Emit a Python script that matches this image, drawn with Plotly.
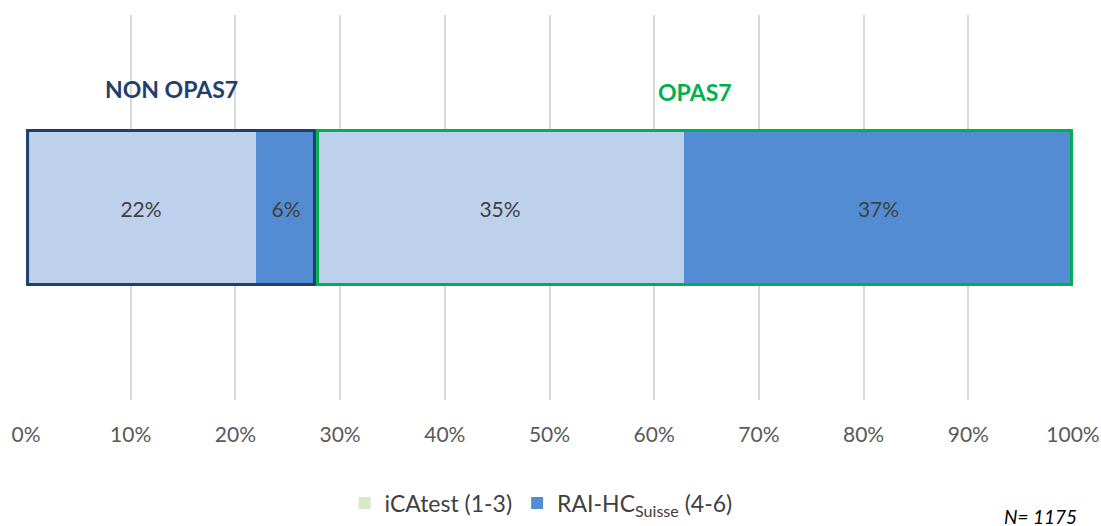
import plotly.graph_objects as go

# Data
category = ["Total"]
segment_names = ["iCAtest (1-3) NON OPAS7", "RAI-HC Suisse (4-6) NON OPAS7",
                 "iCAtest (1-3) OPAS7", "RAI-HC Suisse (4-6) OPAS7"]
segment_values = [22.0, 5.7, 35.1, 37.2]
segment_labels = ["22%", "6%", "35%", "37%"]
segment_group = ["NON OPAS7", "NON OPAS7", "OPAS7", "OPAS7"]
legend_names = ["iCAtest (1-3)", "RAI-HC<sub>Suisse</sub> (4-6)"]
tick_vals = [0, 10, 20, 30, 40, 50, 60, 70, 80, 90, 100]
tick_text = ["0%", "10%", "20%", "30%", "40%", "50%", "60%", "70%", "80%", "90%", "100%"]
n_text = "N= 1175"

LIGHT = "#BDD1EC"
DARK = "#538CD3"
LEG_LIGHT = "#D6EAC8"
NAVY = "#1F3F6E"
GREEN = "#00B050"
FONT = "Lato, Carlito, Calibri, sans-serif"
BAR_W = 0.40

W, H = 1101, 526
ML, MR, MT, MB = 26, 28, 15, 126
PW, PH = W - ML - MR, H - MT - MB

seg_colors = [LIGHT, DARK, LIGHT, DARK]

fig = go.Figure()
for name, val, lab, col in zip(segment_names, segment_values, segment_labels, seg_colors):
    fig.add_trace(go.Bar(
        y=[0], x=[val], orientation="h", name=name, width=BAR_W,
        marker=dict(color=col, line=dict(width=0)),
        text=[lab], textposition="inside", insidetextanchor="middle",
        textfont=dict(family=FONT, size=21, color="#404040"),
        showlegend=False, hoverinfo="x+name",
    ))

# legend-only traces
for nm, col in zip(legend_names, [LEG_LIGHT, DARK]):
    fig.add_trace(go.Scatter(
        x=[None], y=[None], mode="markers", name=nm,
        marker=dict(symbol="square", size=13, color=col),
    ))

# group boxes and titles
non_sum = sum(v for v, g in zip(segment_values, segment_group) if g == "NON OPAS7")
opas_sum = sum(v for v, g in zip(segment_values, segment_group) if g == "OPAS7")
groups = [("NON OPAS7", 0, non_sum, NAVY, 0.308), ("OPAS7", non_sum, non_sum + opas_sum, GREEN, 0.30)]
for title, x0, x1, col, ty in groups:
    fig.add_shape(type="rect", xref="x", yref="y", x0=x0 + 0.15, x1=x1 - 0.15,
                  y0=-BAR_W / 2, y1=BAR_W / 2, line=dict(color=col, width=3),
                  fillcolor="rgba(0,0,0,0)")
    fig.add_annotation(x=(x0 + x1) / 2, y=ty, xref="x", yref="y", text=f"<b>{title}</b>",
                       showarrow=False, font=dict(family=FONT, size=23, color=col))

fig.add_annotation(x=(1079 - ML) / PW, y=-(516 - (MT + PH)) / PH, xref="paper", yref="paper",
                   text=f"<i>{n_text}</i>", showarrow=False, xanchor="right", yanchor="middle",
                   font=dict(family=FONT, size=19, color="#000000"))

fig.update_layout(
    width=W, height=H,
    margin=dict(l=ML, r=MR, t=MT, b=MB, autoexpand=False),
    barmode="stack", bargap=0,
    plot_bgcolor="white", paper_bgcolor="white",
    font=dict(family=FONT, size=16, color="#595959"),
    xaxis=dict(range=[0, 100], tickvals=tick_vals, ticktext=tick_text, automargin=False,
               showgrid=True, gridcolor="#D9D9D9", gridwidth=2, zeroline=False,
               showline=False, ticks="", ticklabelstandoff=20,
               tickfont=dict(family=FONT, size=21, color="#595959")),
    yaxis=dict(range=[-0.5, 0.5], showticklabels=False, showgrid=False, zeroline=False,
               automargin=False),
    legend=dict(orientation="h", x=0.492, xanchor="center", y=-(503 - (MT + PH)) / PH,
                yanchor="middle", itemwidth=30,
                font=dict(family=FONT, size=23, color="#404040"), itemsizing="constant",
                traceorder="normal"),
    showlegend=True,
)

fig.write_html("out.html", config={"displayModeBar": False},
               post_script="document.body.style.margin='0';document.body.style.overflow='hidden';")
